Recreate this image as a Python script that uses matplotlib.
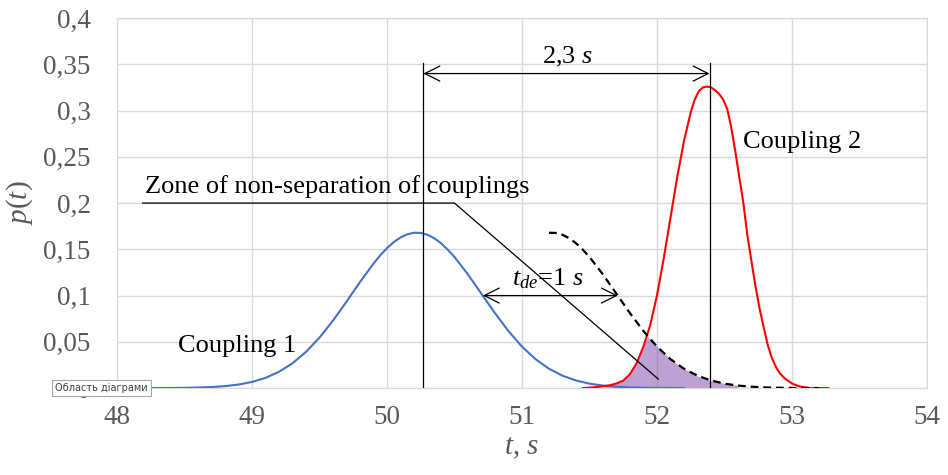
import numpy as np
import matplotlib
matplotlib.use('Agg')
import matplotlib.pyplot as plt

plt.rcParams['font.family'] = ['Liberation Serif', 'DejaVu Serif']
plt.rcParams['mathtext.fontset'] = 'custom'
plt.rcParams['mathtext.rm'] = 'Liberation Serif'
plt.rcParams['mathtext.it'] = 'Liberation Serif:italic'

# Coupling 1 arrival density
t1 = [48.0, 48.1, 48.2, 48.3, 48.4, 48.5, 48.6, 48.7, 48.8, 48.9,
      49.0, 49.1, 49.2, 49.3, 49.4, 49.5, 49.6, 49.7, 49.8, 49.9,
      49.95, 50.0, 50.05, 50.1, 50.15, 50.2, 50.25, 50.3, 50.35, 50.4,
      50.45, 50.5, 50.6, 50.7, 50.8, 50.9,
      51.0, 51.1, 51.2, 51.3, 51.4, 51.5, 51.6, 51.7, 51.8, 51.9,
      52.0, 52.1, 52.2]
p1 = [0.0, 0.0, 0.0, 0.0001, 0.0001, 0.0003, 0.0006, 0.0011, 0.0021, 0.0038,
      0.0066, 0.0110, 0.0176, 0.0268, 0.0391, 0.0545, 0.0729, 0.0934, 0.1146, 0.1345,
      0.1435, 0.1512, 0.1578, 0.1628, 0.1662, 0.1679, 0.1677, 0.1657, 0.1620, 0.1566,
      0.1497, 0.1417, 0.1228, 0.1019, 0.0810, 0.0616,
      0.0448, 0.0313, 0.0209, 0.0134, 0.0082, 0.0048, 0.0027, 0.0015, 0.0007, 0.0004,
      0.0001, 0.0001, 0.0]

# Coupling 2 arrival density
t2 = [51.45, 51.5, 51.55, 51.6, 51.65, 51.7, 51.75, 51.8, 51.85, 51.9,
      51.95, 52.0, 52.05, 52.1, 52.15, 52.2, 52.25, 52.28, 52.31, 52.34,
      52.37, 52.40, 52.43, 52.46, 52.49, 52.52, 52.55, 52.58, 52.61, 52.64,
      52.67, 52.70, 52.73, 52.76, 52.79, 52.82, 52.85, 52.88, 52.91, 52.95,
      53.0, 53.05, 53.13, 53.27]
p2 = [0.0, 0.0005, 0.001, 0.002, 0.003, 0.005, 0.008, 0.015, 0.027, 0.045,
      0.068, 0.100, 0.140, 0.184, 0.228, 0.267, 0.298, 0.312, 0.321, 0.325,
      0.326, 0.325, 0.322, 0.318, 0.312, 0.302, 0.282, 0.256, 0.228, 0.200,
      0.165, 0.137, 0.110, 0.086, 0.066, 0.047, 0.033, 0.023, 0.016, 0.010,
      0.005, 0.002, 0.0, 0.0]

# Coupling 1 delayed by t_de
t_del = [51.2, 51.25, 51.3, 51.35, 51.4, 51.45, 51.5, 51.6, 51.7, 51.8, 51.9, 52.0, 52.1,
         52.2, 52.3, 52.4, 52.5, 52.6, 52.7, 52.8, 52.9, 53.0, 53.1, 53.2]
p_del = [0.1679, 0.1677, 0.1657, 0.1620, 0.1566, 0.1497, 0.1417, 0.1228, 0.1019, 0.0810,
         0.0616, 0.0448, 0.0313, 0.0209, 0.0134, 0.0082, 0.0048, 0.0027, 0.0015, 0.0007,
         0.0004, 0.0001, 0.0001, 0.0]

# overlap zone (under red on the left, under dashed on the right)
zone_t = [51.6, 51.7, 51.8, 51.85, 51.9, 51.93, 52.0, 52.1, 52.2, 52.3, 52.4, 52.5, 52.6]
zone_p = [0.0, 0.005, 0.015, 0.027, 0.045, 0.056, 0.045, 0.031, 0.021, 0.013, 0.008, 0.005, 0.003]

x_ticks = [48, 49, 50, 51, 52, 53, 54]
y_ticks = [0, 0.05, 0.1, 0.15, 0.2, 0.25, 0.3, 0.35, 0.4]
y_tick_labels = ['0', '0,05', '0,1', '0,15', '0,2', '0,25', '0,3', '0,35', '0,4']

t_peak1 = 50.27
t_peak2 = 52.39

fig = plt.figure(figsize=(9.48, 4.75), dpi=100)
ax = fig.add_axes([0.1234, 0.183, 0.8544, 0.779])

ax.fill_between(zone_t, zone_p, color='#7030a0', alpha=0.45, lw=0, zorder=2)
ax.plot(t1, p1, color='#4472c4', lw=1.5, zorder=3)
ax.plot(t2, p2, color='red', lw=1.5, zorder=3)
ax.plot(t_del, p_del, color='black', lw=1.6, ls=(0, (3.5, 2.2)), zorder=3)

# peak markers and the 2,3 s span
ax.plot([t_peak1, t_peak1], [0, 0.351], color='black', lw=0.9, zorder=4)
ax.plot([t_peak2, t_peak2], [0, 0.351], color='black', lw=0.9, zorder=4)
arrow = dict(arrowstyle='<->,head_length=0.9,head_width=0.45', color='black',
             lw=0.9, shrinkA=0, shrinkB=0, mutation_scale=12)
ax.annotate('', xy=(t_peak2, 0.34), xytext=(t_peak1, 0.34), arrowprops=arrow)
ax.text(51.34, 0.3575, '2,3 $s$', fontsize=19, ha='center', va='center')

# delay arrow
ax.annotate('', xy=(51.71, 0.1), xytext=(50.71, 0.1), arrowprops=arrow)
ax.text(51.19, 0.111, '$t_{de}$=1 $s$', fontsize=19, ha='center', va='baseline')

# leader for the zone label
ax.plot([48.19, 50.50, 52.01], [0.2, 0.2, 0.0097], color='black', lw=0.9, zorder=4)
ax.text(48.21, 0.211, 'Zone of non-separation of couplings', fontsize=19, va='baseline')

ax.text(48.45, 0.039, 'Coupling 1', fontsize=19, va='baseline')
ax.text(52.64, 0.259, 'Coupling 2', fontsize=19, va='baseline')

ax.set_xlim(48, 54)
ax.set_ylim(0, 0.4)
ax.set_xticks(x_ticks)
ax.set_yticks(y_ticks)
ax.set_yticklabels(y_tick_labels)
ax.tick_params(length=0, labelsize=19.5, colors='#595959')
ax.tick_params(axis='y', pad=19)
ax.tick_params(axis='x', pad=12)
ax.grid(color='#d9d9d9', lw=1)
ax.set_axisbelow(True)
for s in ax.spines.values():
    s.set_color('#d9d9d9')

ax.set_ylabel('$p(t)$', fontsize=21, color='#595959', labelpad=6)
ax.set_xlabel('$t$, $s$', fontsize=21, color='#595959', labelpad=4)

fig.text(0.107, 0.183, 'Область діаграми', family='DejaVu Sans', fontsize=7,
         color='#404040', ha='center', va='center', zorder=10,
         bbox=dict(boxstyle='square,pad=0.35', fc='white', ec='#a6a6a6', lw=0.8))

fig.savefig('out.png', dpi=100)
